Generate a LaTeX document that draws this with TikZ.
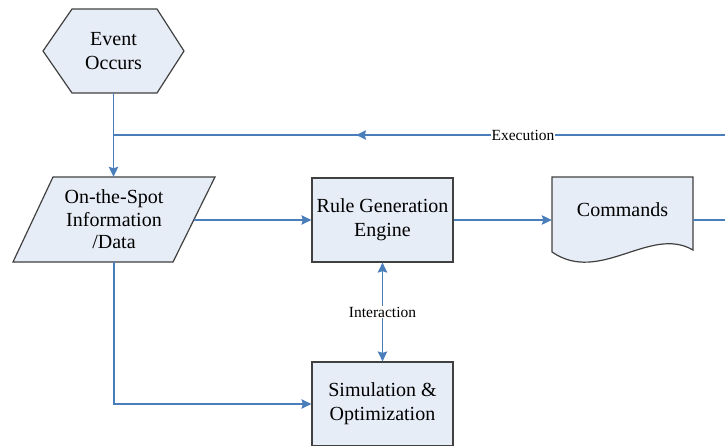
\documentclass[tikz,border=0pt]{standalone}
\usepackage{fontspec}
\setmainfont{Liberation Serif}
\newfontfamily\tnrfont{Liberation Serif}
\usetikzlibrary{arrows.meta,decorations.markings,calc}
\definecolor{boxfill}{RGB}{231,237,247}
\definecolor{boxline}{RGB}{64,64,64}
\definecolor{flow}{RGB}{74,126,187}
\begin{document}
\begin{tikzpicture}[x=1pt,y=-1pt,
  shapeline/.style={draw=boxline,fill=boxfill,line width=1.2pt},
  txt/.style={font=\tnrfont\fontsize{20}{24}\selectfont,align=center,inner sep=0pt},
  box/.style={shapeline,txt,minimum width=141pt,minimum height=84pt},
  conn/.style={draw=flow,line width=1.1pt},
  tip/.style={-{Stealth[length=10pt,width=9.5pt,inset=1.5pt]}},
  dtip/.style={{Stealth[length=10pt,width=9.5pt,inset=1.5pt]}-{Stealth[length=10pt,width=9.5pt,inset=1.5pt]}},
  midtip/.style={postaction={decorate},decoration={markings,mark=at position 0.605 with {\arrow{Stealth[length=10pt,width=9.5pt,inset=1.5pt]}}}},
  lbl/.style={font=\tnrfont\fontsize{15.5}{18}\selectfont,fill=white,inner sep=1pt}]
\useasboundingbox (0,0) rectangle (725,445);

% Event hexagon
\draw[shapeline] (43,51) -- (72,9) -- (157,9) -- (184,51) -- (157,93) -- (72,93) -- cycle;
\node[txt,minimum width=141pt,minimum height=84pt] (event) at (113.5,51) {Event\\Occurs};

% On-the-spot parallelogram
\draw[shapeline] (53,177) -- (215,177) -- (173,262) -- (13,262) -- cycle;
\node[txt,font=\tnrfont\fontsize{20}{22.5}\selectfont,minimum width=120pt,minimum height=85pt] (info) at (114,219.5) {On-the-Spot\\Information\\/Data};
\coordinate (infoR) at (194,220);

% Rule generation engine
\node[box] (rule) at (382.5,220) {Rule Generation\\Engine};

% Simulation & Optimization
\node[box] (sim) at (382.5,404) {Simulation \&\\Optimization};

% Commands document
\draw[shapeline] (552,177) -- (693,177) -- (693,250) .. controls (650,225) and (600,285) .. (552,252) -- cycle;
\node[txt,minimum width=141pt] (cmd) at (622.5,210) {Commands};

% Connectors
\coordinate (exR) at (727,135);
\coordinate (join) at (114,135);
\coordinate (outR) at (727,220);

\draw[conn,tip] (event.south) -- (event.south |- info.north);
\draw[conn,midtip] (exR) -- (join);
\node[lbl] (exlbl) at (523,135) {Execution};
\draw[conn,tip] (infoR) -- (rule.west);
\draw[conn,tip] (rule.east) -- (rule.east -| cmd.west);
\draw[conn] (rule.east -| cmd.east) -- (outR);
\draw[conn,dtip] (rule.south) -- (sim.north) node[midway,lbl] (inter) {Interaction};
\draw[conn,tip] (info.south) |- (sim.west);
\end{tikzpicture}
\end{document}
